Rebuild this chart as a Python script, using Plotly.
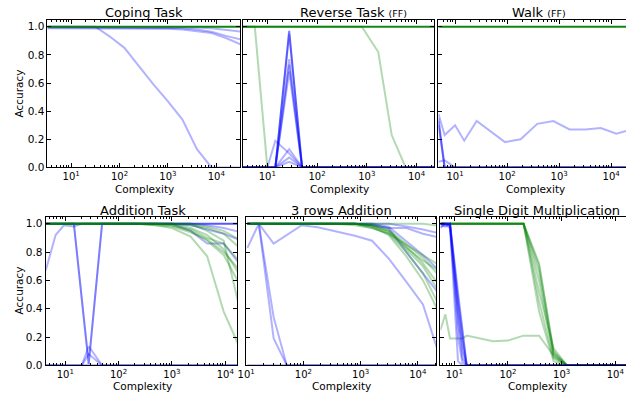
import plotly.graph_objects as go

W, H = 626, 397

# ---------------- data ----------------
# Coping Task
coping_x = [3.2, 7.9, 15.8, 31.6, 63, 126, 251, 501, 1000, 1995, 3981, 7943, 15849, 31623]
coping_blue = [
    [1.0, 1.0, 1.0, 1.0, 0.93, 0.85, 0.72, 0.59, 0.47, 0.34, 0.13, 0.0, 0.0, 0.0],
    [0.99, 0.99, 0.99, 0.99, 0.99, 0.99, 0.99, 0.99, 0.985, 0.98, 0.97, 0.955, 0.92, 0.875],
    [0.995, 0.995, 0.995, 0.995, 0.995, 0.995, 0.995, 0.995, 0.995, 0.99, 0.98, 0.965, 0.935, 0.91],
    [1.0, 1.0, 1.0, 1.0, 1.0, 1.0, 1.0, 1.0, 1.0, 1.0, 0.995, 0.99, 0.98, 0.965],
]
coping_blue_w = [1, 1, 1, 1]
coping_green = [
    [1.0, 1.0, 1.0, 1.0, 1.0, 1.0, 1.0, 1.0, 1.0, 1.0, 1.0, 1.0, 1.0, 1.0],
]
coping_green_w = [8]

# Reverse Task (FF)
reverse_x = [3.2, 5.6, 10, 14.5, 27.5, 50, 100, 200, 398, 794, 1698, 3162, 6026, 12589, 25119]
reverse_blue = [
    [0, 0, 0, 0, 0.97, 0, 0, 0, 0, 0, 0, 0, 0, 0, 0],
    [0, 0, 0, 0, 0.95, 0, 0, 0, 0, 0, 0, 0, 0, 0, 0],
    [0, 0, 0, 0, 0.77, 0, 0, 0, 0, 0, 0, 0, 0, 0, 0],
    [0, 0, 0, 0, 0.73, 0, 0, 0, 0, 0, 0, 0, 0, 0, 0],
    [0, 0, 0, 0, 0.68, 0, 0, 0, 0, 0, 0, 0, 0, 0, 0],
    [0, 0, 0, 0.19, 0.10, 0, 0, 0, 0, 0, 0, 0, 0, 0, 0],
    [0, 0, 0, 0, 0.13, 0, 0, 0, 0, 0, 0, 0, 0, 0, 0],
    [0, 0, 0, 0, 0.07, 0, 0, 0, 0, 0, 0, 0, 0, 0, 0],
    [0, 0, 0, 0, 0.04, 0, 0, 0, 0, 0, 0, 0, 0, 0, 0],
]
reverse_blue_w = [2, 1, 1, 1, 1, 1, 1, 1, 1]
reverse_green = [
    [1.0, 1.0, 0.0, None, None, None, None, None, None, None, None, None, None, None, None],
    [1.0, 1.0, 1.0, 1.0, 1.0, 1.0, 1.0, 1.0, 1.0, 1.0, 0.82, 0.23, 0.0, None, None],
    [1.0, 1.0, 1.0, 1.0, 1.0, 1.0, 1.0, 1.0, 1.0, 1.0, 1.0, 1.0, 1.0, 1.0, 1.0],
]
reverse_green_w = [1, 1, 7]

# Walk (FF)
walk_x = [4.8, 6.3, 10, 15, 26, 47, 91, 182, 380, 776, 1585, 3162, 6310, 12589, 25119]
walk_blue = [
    [0.38, 0.23, 0.30, 0.19, 0.33, 0.26, 0.18, 0.20, 0.31, 0.33, 0.27, 0.27, 0.28, 0.24, 0.27],
    [0.33, 0.0, 0, 0, 0, 0, 0, 0, 0, 0, 0, 0, 0, 0, 0],
    [0.30, 0.0, 0, 0, 0, 0, 0, 0, 0, 0, 0, 0, 0, 0, 0],
    [0.35, 0.0, 0, 0, 0, 0, 0, 0, 0, 0, 0, 0, 0, 0, 0],
    [0.04, 0.05, 0, 0, 0, 0, 0, 0, 0, 0, 0, 0, 0, 0, 0],
    [0, 0, 0, 0, 0, 0, 0, 0, 0, 0, 0, 0, 0, 0, 0],
]
walk_blue_w = [1, 1, 1, 1, 1, 2]
walk_green = [
    [1.0, 1.0, 1.0, 1.0, 1.0, 1.0, 1.0, 1.0, 1.0, 1.0, 1.0, 1.0, 1.0, 1.0, 1.0],
]
walk_green_w = [8]

# Addition Task
add_x = [4.3, 6.6, 9.5, 14.5, 20.4, 27.5, 49, 100, 224, 501, 1000, 2239, 4571, 9333, 19953]
add_blue = [
    [0.67, 0.92, 0.99, 0.98, 1.0, 1.0, 1.0, 1.0, 1.0, 1.0, 1.0, 0.95, 0.86, 0.86, 0.70],
    [1.0, 1.0, 1.0, 1.0, 0.47, 0.01, 1.0, 1.0, 1.0, 1.0, 1.0, 0.99, 0.96, 0.93, 0.88],
    [1.0, 1.0, 1.0, 1.0, 0.47, 0.01, 1.0, 1.0, 1.0, 1.0, 1.0, 1.0, 0.99, 0.97, 0.94],
    [0, 0, 0, 0, 0, 0.135, 0, 0, 0, 0, 0, 0, 0, 0, 0],
    [0, 0, 0, 0, 0, 0.08, 0, 0, 0, 0, 0, 0, 0, 0, 0],
    [0, 0, 0, 0, 0, 0, 0, 0, 0, 0, 0, 0, 0, 0, 0],
    [1.0, 1.0, 1.0, 1.0, 1.0, 1.0, 1.0, 1.0, 1.0, 1.0, 1.0, 1.0, 1.0, 1.0, 1.0],
]
add_blue_w = [1, 1, 1, 1, 1, 2, 3]
add_green = [
    [1, 1, 1, 1, 1, 1, 1, 1, 1.0, 0.99, 0.97, 0.91, 0.77, 0.38, 0.10],
    [1, 1, 1, 1, 1, 1, 1, 1, 1.0, 1.0, 0.99, 0.95, 0.88, 0.78, 0.55],
    [1, 1, 1, 1, 1, 1, 1, 1, 1.0, 1.0, 1.0, 0.97, 0.92, 0.82, 0.62],
    [1, 1, 1, 1, 1, 1, 1, 1, 1.0, 1.0, 1.0, 1.0, 0.95, 0.88, 0.35],
    [1, 1, 1, 1, 1, 1, 1, 1, 1.0, 1.0, 1.0, 0.99, 0.97, 0.93, 0.82],
    [1, 1, 1, 1, 1, 1, 1, 1, 1.0, 1.0, 1.0, 1.0, 0.98, 0.95, 0.88],
    [1, 1, 1, 1, 1, 1, 1, 1, 1.0, 1.0, 0.99, 0.96, 0.90, 0.86, 0.72],
    [1, 1, 1, 1, 1, 1, 1, 1, 1.0, 0.99, 0.98, 0.94, 0.89, 0.80, 0.66],
]
add_green_w = [1, 1, 1, 1, 1, 1, 1, 1]

# 3 rows Addition
rows_x = [10.5, 16.6, 30.2, 51.3, 93.3, 178, 347, 794, 1585, 3090, 6310, 12303, 25119]
rows_blue = [
    [0.83, 1.0, 0.34, 0.0, 0, 0, 0, 0, 0, 0, 0, 0, 0],
    [1.0, 1.0, 0.19, 0.0, 0, 0, 0, 0, 0, 0, 0, 0, 0],
    [1.0, 1.0, 0.86, 0.92, 0.99, 0.975, 0.95, 0.915, 0.88, 0.755, 0.59, 0.43, 0.04],
    [1.0, 1.0, 1.0, 1.0, 1.0, 1.0, 1.0, 1.0, 0.99, 0.97, 0.80, 0.65, 0.49],
    [1.0, 1.0, 1.0, 1.0, 1.0, 1.0, 1.0, 1.0, 1.0, 0.98, 0.88, 0.78, 0.66],
    [1.0, 1.0, 1.0, 1.0, 1.0, 1.0, 1.0, 1.0, 0.99, 0.97, 0.97, 0.93, 0.90],
    [1.0, 1.0, 1.0, 1.0, 1.0, 1.0, 1.0, 1.0, 1.0, 1.0, 0.98, 0.96, 0.93],
    [0, 0, 0, 0, 0, 0, 0, 0, 0, 0, 0, 0, 0],
]
rows_blue_w = [1, 1, 1, 1, 1, 1, 1, 2]
rows_green = [
    [1, 1, 1, 1, 1, 1, 1, 1, 0.98, 0.95, 0.84, 0.72, 0.55],
    [1, 1, 1, 1, 1, 1, 1, 1, 0.97, 0.93, 0.80, 0.65, 0.40],
    [1, 1, 1, 1, 1, 1, 1, 1, 0.98, 0.92, 0.77, 0.60, 0.35],
    [1, 1, 1, 1, 1, 1, 1, 1, 1.0, 0.96, 0.86, 0.76, 0.62],
    [1, 1, 1, 1, 1, 1, 1, 1, 0.99, 0.95, 0.83, 0.74, 0.66],
    [1, 1, 1, 1, 1, 1, 1, 1, 1.0, 1.0, 1.0, 1.0, 0.985],
    [1, 1, 1, 1, 1, 1, 1, 1, 0.99, 0.94, 0.82, 0.70, 0.50],
    [1, 1, 1, 1, 1, 1, 1, 0.99, 0.97, 0.93, 0.85, 0.78, 0.70],
]
rows_green_w = [1, 1, 1, 1, 1, 1, 1, 1]

# Single Digit Multiplication
mult_x = [5.5, 6.8, 8.3, 11.7, 14.1, 17, 31.6, 52.5, 100, 195, 380, 708, 1259, 3162, 10000, 25119]
mult_blue = [
    [1.0, 1.0, 0.98, 0.03, 0.0, 0.0, 0, 0, 0, 0, 0, 0, 0, 0, 0, 0],
    [1.0, 1.0, 1.0, 0.45, 0.20, 0.0, 0, 0, 0, 0, 0, 0, 0, 0, 0, 0],
    [1.0, 0.98, 1.0, 0.52, 0.26, 0.0, 0, 0, 0, 0, 0, 0, 0, 0, 0, 0],
    [0.98, 0.99, 0.97, 0.30, 0.05, 0.0, 0, 0, 0, 0, 0, 0, 0, 0, 0, 0],
    [1.0, 1.0, 0.99, 0.40, 0.15, 0.0, 0, 0, 0, 0, 0, 0, 0, 0, 0, 0],
    [0.97, 1.0, 1.0, 0.20, 0.02, 0.0, 0, 0, 0, 0, 0, 0, 0, 0, 0, 0],
    [1.0, 1.0, 1.0, 0.48, 0.22, 0.0, 0, 0, 0, 0, 0, 0, 0, 0, 0, 0],
    [1.0, 1.0, 0.99, 0.36, 0.10, 0.0, 0, 0, 0, 0, 0, 0, 0, 0, 0, 0],
]
mult_blue_w = [1, 1, 1, 1, 1, 1, 1, 1]
mult_green = [
    [1, 1, 1, 1, 1, 1, 1, 1, 1, 1.0, 0.72, 0.10, 0.0, 0.0, 0.0, 0.0],
    [1, 1, 1, 1, 1, 1, 1, 1, 1, 1.0, 0.66, 0.08, 0.0, 0.0, 0.0, 0.0],
    [1, 1, 1, 1, 1, 1, 1, 1, 1, 1.0, 0.60, 0.06, 0.0, 0.0, 0.0, 0.0],
    [1, 1, 1, 1, 1, 1, 1, 1, 1, 1.0, 0.52, 0.12, 0.0, 0.0, 0.0, 0.0],
    [1, 1, 1, 1, 1, 1, 1, 1, 1, 1.0, 0.45, 0.05, 0.0, 0.0, 0.0, 0.0],
    [1, 1, 1, 1, 1, 1, 1, 1, 1, 1.0, 0.38, 0.03, 0.0, 0.0, 0.0, 0.0],
    [1, 1, 1, 1, 1, 1, 1, 1, 1, 1.0, 0.70, 0.09, 0.0, 0.0, 0.0, 0.0],
    [0.25, 0.36, 0.19, 0.19, 0.19, 0.21, 0.19, 0.17, 0.175, 0.21, 0.21, 0.07, 0.0, 0.0, 0.0, 0.0],
]
mult_green_w = [1, 1, 1, 1, 1, 1, 1, 1]

titles = ["Coping Task", "Reverse Task", "Walk", "Addition Task", "3 rows Addition",
          "Single Digit Multiplication"]
title_suffix = ["", "(FF)", "(FF)", "", "", ""]
y_ticks = [0.0, 0.2, 0.4, 0.6, 0.8, 1.0]
y_tick_text = ["0.0", "0.2", "0.4", "0.6", "0.8", "1.0"]
x_ticks = [10, 100, 1000, 10000]
x_tick_text = ["10<sup>1</sup>", "10<sup>2</sup>", "10<sup>3</sup>", "10<sup>4</sup>"]

# ---------------- layout geometry (pixels) ----------------
panels = [
    dict(px=(40, 235), py=(20, 170), xr=(0.51, 4.49), ylab=True, right=True),
    dict(px=(238, 432), py=(20, 170), xr=(0.51, 4.36), ylab=False, right=True),
    dict(px=(436, 626), py=(20, 170), xr=(0.68, 4.285), ylab=False, right=False),
    dict(px=(38, 232), py=(220, 371), xr=(0.63, 4.22), ylab=True, right=True),
    dict(px=(241, 434), py=(220, 371), xr=(0.995, 4.326), ylab=False, right=True),
    dict(px=(438, 626), py=(220, 371), xr=(0.74, 4.2), ylab=False, right=False),
]

series = [
    (coping_x, coping_blue, coping_blue_w, coping_green, coping_green_w, "green_top"),
    (reverse_x, reverse_blue, reverse_blue_w, reverse_green, reverse_green_w, "green_top"),
    (walk_x, walk_blue, walk_blue_w, walk_green, walk_green_w, "green_top"),
    (add_x, add_blue, add_blue_w, add_green, add_green_w, "green_top"),
    (rows_x, rows_blue, rows_blue_w, rows_green, rows_green_w, "green_top"),
    (mult_x, mult_blue, mult_blue_w, mult_green, mult_green_w, "blue_top"),
]

ALPHA = 0.3
FONT = "DejaVu Sans"


def rgba(base, w):
    a = 1 - (1 - ALPHA) ** w
    return f"rgba({base[0]},{base[1]},{base[2]},{a:.3f})"


fig = go.Figure()
minor_vals = [m * 10 ** k for k in range(0, 5) for m in range(2, 10)]

for i, (p, s) in enumerate(zip(panels, series)):
    n = i + 1
    xa = "x" if n == 1 else f"x{n}"
    ya = "y" if n == 1 else f"y{n}"
    xs, blues, bw, greens, gw, order = s

    def add_group(lines, weights, base):
        for ys, w in zip(lines, weights):
            fig.add_trace(go.Scatter(x=xs, y=ys, mode="lines",
                                     line=dict(color=rgba(base, w), width=2),
                                     xaxis=xa, yaxis=ya, showlegend=False,
                                     hoverinfo="skip", connectgaps=False))

    if order == "green_top":
        add_group(blues, bw, (0, 0, 255))
        add_group(greens, gw, (0, 128, 0))
    else:
        add_group(greens, gw, (0, 128, 0))
        add_group(blues, bw, (0, 0, 255))

    xkey = "xaxis" if n == 1 else f"xaxis{n}"
    ykey = "yaxis" if n == 1 else f"yaxis{n}"
    fig.layout[xkey] = dict(
        type="log", range=list(p["xr"]),
        domain=[p["px"][0] / W, p["px"][1] / W],
        anchor=ya, showgrid=False, zeroline=False,
        showline=True, linecolor="black", linewidth=1, mirror="ticks",
        ticks="inside", ticklen=4, tickwidth=1, tickcolor="black",
        tickmode="array", tickvals=x_ticks, ticktext=x_tick_text,
        tickfont=dict(family=FONT, size=10, color="black"),
        minor=dict(ticks="inside", ticklen=2, tickwidth=1, tickcolor="black",
                   tickmode="array", tickvals=minor_vals, showgrid=False),
    )
    fig.layout[ykey] = dict(
        range=[0, 1.05],
        domain=[1 - p["py"][1] / H, 1 - p["py"][0] / H],
        anchor=xa, showgrid=False, zeroline=False,
        showline=True, linecolor="black", linewidth=1,
        mirror="ticks" if p["right"] else False,
        ticks="inside", ticklen=4, tickwidth=1, tickcolor="black",
        tickmode="array", tickvals=y_ticks, ticktext=y_tick_text,
        showticklabels=p["ylab"],
        tickfont=dict(family=FONT, size=10.5, color="black"),
    )

annotations = []


def ann(text, xpx, ypx, size, xanchor="center", angle=0):
    annotations.append(dict(text=text, x=xpx / W, y=1 - ypx / H, xref="paper", yref="paper",
                            xanchor=xanchor, yanchor="middle", showarrow=False,
                            textangle=angle,
                            font=dict(family=FONT, size=size, color="black")))


title_pos = [(138, 13, "center"), (294, 13, "left"), (509, 13, "left"),
             (136.5, 214, "center"), (338, 214, "center"), (536, 214, "center")]
for t, suf, (tx, ty, anc) in zip(titles, title_suffix, title_pos):
    txt = t if not suf else f"{t} <span style='font-size:9.5px'>{suf}</span>"
    ann(txt, tx, ty, 13, anc)

for cx, cy in [(138.5, 191.5), (336, 191.5), (534, 191.5), (136, 391.5), (338, 391.5), (536, 391.5)]:
    ann("Complexity", cx, cy, 10.5)

ann("Accuracy", 11, 95, 10.5, angle=-90)
ann("Accuracy", 11, 295, 10.5, angle=-90)

fig.update_layout(width=W, height=H, margin=dict(l=0, r=0, t=0, b=0),
                  paper_bgcolor="white", plot_bgcolor="white",
                  annotations=annotations, showlegend=False)

fig.write_html("out.html", config={"displayModeBar": False},
               post_script="document.body.style.margin='0px';"
                           "document.body.style.overflow='hidden';")
